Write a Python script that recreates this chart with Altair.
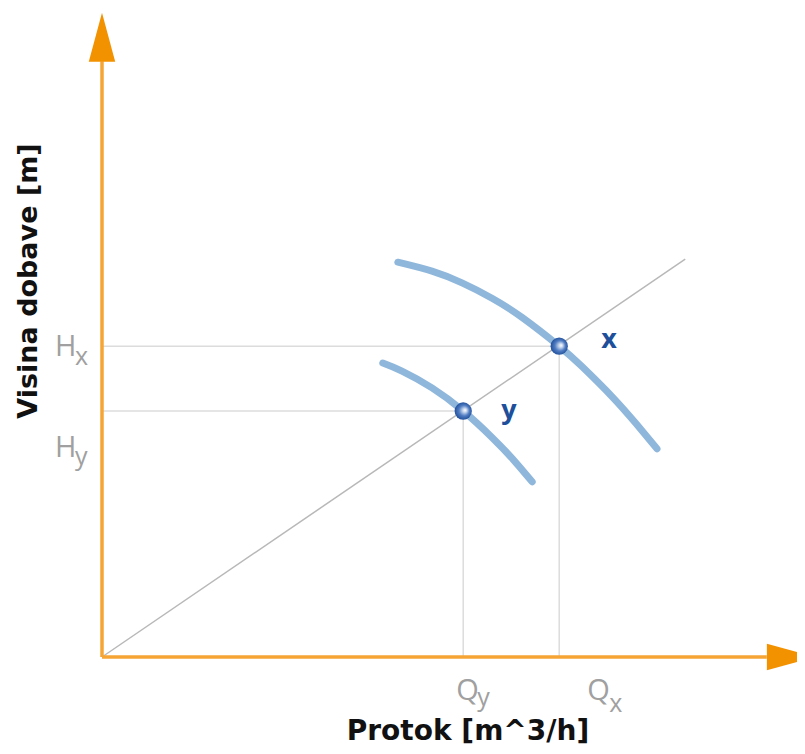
import altair as alt
import pandas as pd

# ---- data (Q = flow, H = head; arbitrary units) ----
Q_X, H_X = 76.2, 51.8          # operating point x
Q_Y, H_Y = 60.2, 41.0          # operating point y
diag_Q = [0.0, 97.2]
diag_H = [0.0, 66.3]
upper_Q = [49.3, 55.0, 60.0, 65.0, 70.0, 76.2, 80.0, 85.0, 89.0, 92.5]
upper_H = [65.8, 64.3, 62.35, 59.8, 56.6, 51.8, 48.4, 43.4, 38.9, 34.7]
lower_Q = [46.8, 50.0, 55.0, 60.2, 65.0, 68.5, 71.7]
lower_H = [49.0, 47.65, 44.85, 41.0, 36.6, 32.95, 29.2]
AXIS_Q_END = 110.8
AXIS_H_END = 99.3
ARROW_Q = 114.9
ARROW_H = 103.3
x_title = "Protok [m^3/h]"
y_title = "Visina dobave [m]"

W, H = 789, 738
xs = alt.Scale(domain=[-15.667, 115.833], nice=False, zero=False)
ys = alt.Scale(domain=[-14.833, 108.167], nice=False, zero=False)

def X(f="Q"):
    return alt.X(f, type="quantitative", scale=xs, axis=None)

def Y(f="H"):
    return alt.Y(f, type="quantitative", scale=ys, axis=None)

# reference lines
refs = pd.DataFrame({
    "Q": [0, 0, Q_X, Q_Y],
    "Q2": [Q_X, Q_Y, Q_X, Q_Y],
    "H": [H_X, H_Y, 0, 0],
    "H2": [H_X, H_Y, H_X, H_Y],
})
ref_layer = alt.Chart(refs).mark_rule(color="#dcdcdc", strokeWidth=1.5).encode(
    x=X(), x2="Q2", y=Y(), y2="H2")

diag = pd.DataFrame({"Q": [diag_Q[0]], "Q2": [diag_Q[1]], "H": [diag_H[0]], "H2": [diag_H[1]]})
diag_layer = alt.Chart(diag).mark_rule(color="#b8b8b8", strokeWidth=1.5).encode(
    x=X(), x2="Q2", y=Y(), y2="H2")

curves = pd.DataFrame({
    "Q": upper_Q + lower_Q,
    "H": upper_H + lower_H,
    "c": ["x"] * len(upper_Q) + ["y"] * len(lower_Q),
})
curve_layer = alt.Chart(curves).mark_line(
    color="#8fb7db", strokeWidth=7, strokeCap="round", interpolate="natural"
).encode(x=X(), y=Y(), detail="c:N")

pts = pd.DataFrame({"Q": [Q_X, Q_Y], "H": [H_X, H_Y], "name": ["x", "y"]})
grad = alt.RadialGradient(
    gradient="radial",
    stops=[alt.GradientStop(color="#ffffff", offset=0),
           alt.GradientStop(color="#c9d8ee", offset=0.2),
           alt.GradientStop(color="#4f7cc2", offset=0.55),
           alt.GradientStop(color="#1a4894", offset=1)],
    x1=0.62, y1=0.45, r1=0, x2=0.5, y2=0.5, r2=0.55)
pt_layer = alt.Chart(pts).mark_circle(size=300, fill=grad, opacity=1).encode(x=X(), y=Y())

lbl_x = alt.Chart(pts[pts.name == "x"]).mark_text(
    font="Open Sans", fontWeight="bold", fontSize=27, color="#1d4f9b",
    align="left", baseline="alphabetic", dx=42, dy=2).encode(x=X(), y=Y(), text="name:N")
lbl_y = alt.Chart(pts[pts.name == "y"]).mark_text(
    font="Open Sans", fontWeight="bold", fontSize=27, color="#1d4f9b",
    align="left", baseline="alphabetic", dx=38, dy=8).encode(x=X(), y=Y(), text="name:N")

# tick-like labels with subscripts
def lab(q, h, txt, size, dx, dy):
    d = pd.DataFrame({"Q": [q], "H": [h], "t": [txt]})
    return alt.Chart(d).mark_text(
        font="Open Sans", fontSize=size, color="#a0a0a0", align="left",
        baseline="alphabetic", dx=dx, dy=dy).encode(x=X(), y=Y(), text="t:N")

tick_labels = [
    lab(0, H_X, "H", 29, -47, 10), lab(0, H_X, "x", 25, -27, 19),
    lab(0, H_Y, "H", 29, -47, 46), lab(0, H_Y, "y", 25, -27, 54),
    lab(Q_Y, 0, "Q", 29, -7, 43), lab(Q_Y, 0, "y", 25, 14, 49),
    lab(Q_X, 0, "Q", 29, 28, 43), lab(Q_X, 0, "x", 25, 50, 55),
]

# orange axes
axes = pd.DataFrame({"Q": [0, 0], "Q2": [AXIS_Q_END, 0], "H": [0, 0], "H2": [0, AXIS_H_END]})
axis_layer = alt.Chart(axes).mark_rule(color="#f6a535", strokeWidth=3.5).encode(
    x=X(), x2="Q2", y=Y(), y2="H2")

arr_up = alt.Chart(pd.DataFrame({"Q": [0], "H": [ARROW_H]})).mark_point(
    shape="M -0.54 1 L 0 -1 L 0.54 1 Z", size=2401, filled=True, fill="#f39200",
    opacity=1, strokeWidth=0).encode(x=X(), y=Y())
arr_right = alt.Chart(pd.DataFrame({"Q": [ARROW_Q], "H": [0]})).mark_point(
    shape="M -1 -0.54 L 1 0 L -1 0.54 Z", size=2401, filled=True, fill="#f39200",
    opacity=1, strokeWidth=0).encode(x=X(), y=Y())

# titles
xt = alt.Chart(pd.DataFrame({"Q": [61.0], "H": [-13.83], "t": [x_title]})).mark_text(
    font="DejaVu Sans", fontWeight="bold", fontSize=28, color="#111111",
    align="center", baseline="alphabetic").encode(x=X(), y=Y(), text="t:N")
yt = alt.Chart(pd.DataFrame({"Q": [-10.9], "H": [62.67], "t": [y_title]})).mark_text(
    font="DejaVu Sans", fontWeight="bold", fontSize=27, color="#111111", angle=270,
    align="center", baseline="alphabetic").encode(x=X(), y=Y(), text="t:N")

chart = alt.layer(
    ref_layer, diag_layer, curve_layer, pt_layer, lbl_x, lbl_y, *tick_labels,
    axis_layer, arr_up, arr_right, xt, yt
).properties(
    width=W, height=H, padding=0, autosize=alt.AutoSizeParams(type="none")
).configure_view(stroke=None)

chart.save("out.html", embed_options={"renderer": "svg", "actions": False})
